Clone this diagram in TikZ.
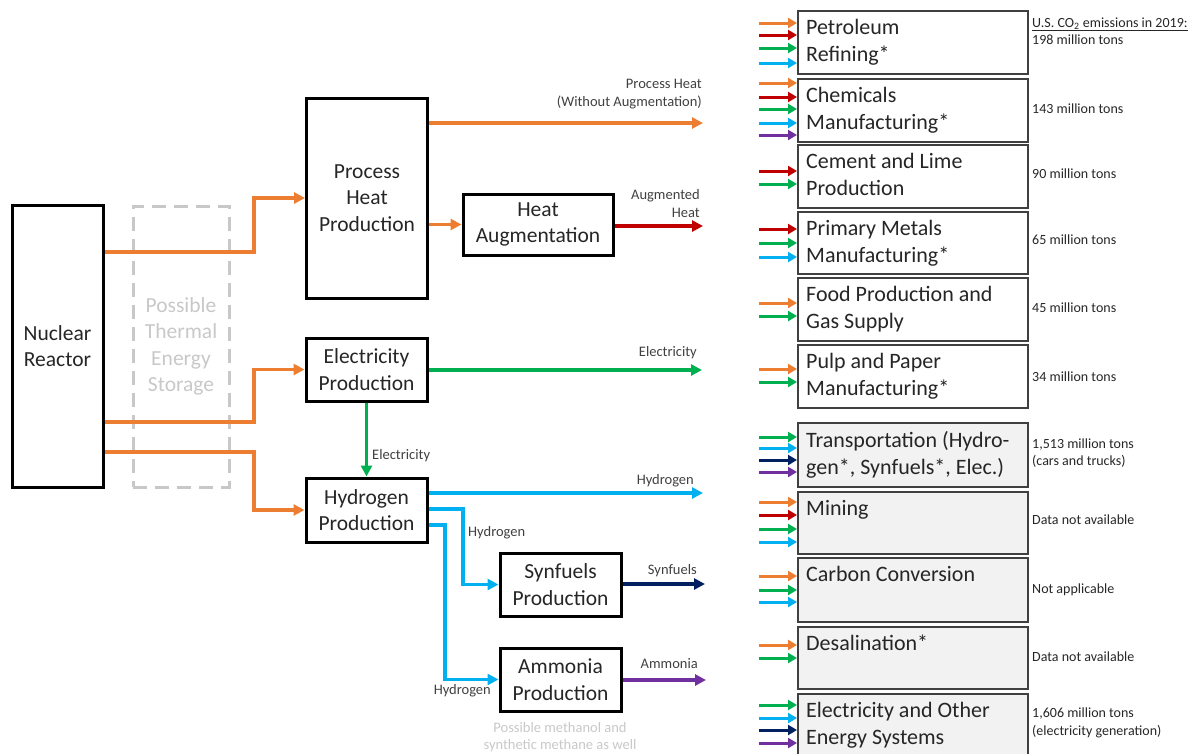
\documentclass[tikz,border=0pt]{standalone}
\usepackage{fontspec}
\setmainfont{Carlito}
\usetikzlibrary{arrows.meta}
\definecolor{cor}{HTML}{ED7D31}
\definecolor{cre}{HTML}{C00000}
\definecolor{cgr}{HTML}{00B050}
\definecolor{cbl}{HTML}{00B0F0}
\definecolor{cnv}{HTML}{002060}
\definecolor{cpu}{HTML}{7030A0}
\definecolor{txt}{HTML}{262626}
\definecolor{lbl}{HTML}{404040}
\definecolor{pale}{HTML}{C8C8C8}
\definecolor{boxgray}{HTML}{F2F2F2}
\tikzset{
  blk/.style={draw=black, line width=3pt, fill=white, align=center, inner sep=0pt,
    text=txt, font=\fontsize{21.5}{26.5}\selectfont},
  store/.style={draw=pale, line width=3pt, dash pattern=on 14pt off 8pt, align=center,
    inner sep=0pt, text=pale, font=\fontsize{21.5}{26.5}\selectfont},
  sect/.style={draw=lbl, line width=1.8pt, anchor=north west, inner sep=0pt},
  secttxt/.style={anchor=north west, align=left, inner sep=0pt, text=txt,
    font=\fontsize{22}{27}\selectfont},
  flow/.style={line width=3.2pt, -{Triangle[length=11pt,width=11pt]}},
  tiny/.style={line width=3pt, -{Triangle[length=9pt,width=10pt]}},
  lab/.style={text=lbl, inner sep=0pt, font=\fontsize{14.5}{18}\selectfont},
  note/.style={text=txt, anchor=west, align=left, inner sep=0pt, font=\fontsize{14}{17.5}\selectfont},
  paletxt/.style={text=pale, align=center, inner sep=0pt, font=\fontsize{14.5}{16.5}\selectfont}
}
\begin{document}
\begin{tikzpicture}[x=1pt,y=-1pt]
\useasboundingbox (0,0) rectangle (1204,753);
\clip (0,0) rectangle (1204,753);

% ---------- left part ----------
\node[blk, minimum width=91pt, minimum height=282pt] (reactor) at (57.5,346) {Nuclear\\Reactor};
\node[store, minimum width=96pt, minimum height=281pt] (storage) at (181,346.5) {Possible\\Thermal\\Energy\\Storage};
\node[blk, minimum width=121pt, minimum height=200pt] (ph) at (367,198) {Process\\Heat\\Production};
\node[blk, minimum width=150pt, minimum height=61pt] (ha) at (538,224.5) {Heat\\Augmentation};
\node[blk, minimum width=121pt, minimum height=63pt] (el) at (366.5,369.5) {Electricity\\Production};
\node[blk, minimum width=121pt, minimum height=64pt] (hy) at (366.5,510) {Hydrogen\\Production};
\node[blk, minimum width=121pt, minimum height=63pt] (sy) at (560.5,584.5) {Synfuels\\Production};
\node[blk, minimum width=121pt, minimum height=63pt] (am) at (560.5,679.5) {Ammonia\\Production};

\coordinate (phout) at (703,123);
\coordinate (haout) at (703,226);
\coordinate (elout) at (702,370);
\coordinate (hyout) at (703,493);
\coordinate (syout) at (705,584);
\coordinate (amout) at (706,680);

\draw[flow, cor] (reactor.east |- 0,252) -- (254,252) |- (ph.west);
\draw[flow, cor] (reactor.east |- 0,422) -- (254,422) |- (el.west);
\draw[flow, cor] (reactor.east |- 0,452) -- (254,452) |- (hy.west);
\draw[flow, cor] (ph.east |- phout) -- (phout);
\draw[flow, cor] (ph.east |- ha.west) -- (ha.west);
\draw[flow, cre] (ha.east |- haout) -- (haout);
\draw[flow, cgr] (el.east |- elout) -- (elout);
\draw[flow, cgr] (el.south) -- (hy.north);
\draw[flow, cbl] (hy.east |- hyout) -- (hyout);
\draw[flow, cbl] (hy.east |- 0,509) -- (463,509) |- (sy.west);
\draw[flow, cbl] (hy.east |- 0,525) -- (445,525) |- (am.west);
\draw[flow, cnv] (sy.east |- syout) -- (syout);
\draw[flow, cpu] (am.east |- amout) -- (amout);

\node[lab, anchor=east, align=right] (lph) at (702,94) {Process Heat\\(Without Augmentation)};
\node[lab, anchor=east, align=right] (lha) at (700,203.5) {Augmented\\Heat};
\node[lab, anchor=east] (lel) at (697,353) {Electricity};
\node[lab, anchor=west] (lel2) at (372,456) {Electricity};
\node[lab, anchor=east] (lhy) at (694,481) {Hydrogen};
\node[lab, anchor=west] (lhy2) at (468,533) {Hydrogen};
\node[lab, anchor=east] (lhy3) at (491,691) {Hydrogen};
\node[lab, anchor=east] (lsy) at (697,571) {Synfuels};
\node[lab, anchor=east] (lam) at (698,664) {Ammonia};
\node[paletxt] (meth) at (560,737) {Possible methanol and\\synthetic methane as well};

% ---------- right column ----------
\newcommand{\sector}[5]{%
  \node[sect, fill=#4, minimum width=230pt, minimum height=#3pt-#2pt] (#1) at (797,#2) {};
  \node[secttxt] (#1t) at (806,#2+9) {#5};
}
\newcommand{\inarr}[3]{%
  \coordinate (#1s) at (759,#2);
  \draw[tiny, #3] (#1s) -- (#1s -| pet.west);
}
\sector{pet}{10}{73}{white}{Petroleum\\Refining*}
\sector{che}{78}{141}{white}{Chemicals\\Manufacturing*}
\sector{cem}{144}{207}{white}{Cement and Lime\\Production}
\sector{met}{211}{273}{white}{Primary Metals\\Manufacturing*}
\sector{foo}{277}{340}{white}{Food Production and\\Gas Supply}
\sector{pul}{344}{407}{white}{Pulp and Paper\\Manufacturing*}
\sector{tra}{422}{486}{boxgray}{Transportation (Hydro-\\gen*, Synfuels*, Elec.)}
\sector{min}{491}{553}{boxgray}{Mining}
\sector{car}{557}{621}{boxgray}{Carbon Conversion}
\sector{des}{626}{688}{boxgray}{Desalination*}
\sector{ele}{693}{770}{boxgray}{Electricity and Other\\Energy Systems}

\inarr{a1}{23}{cor}\inarr{a2}{35}{cre}\inarr{a3}{48}{cgr}\inarr{a4}{63}{cbl}
\inarr{b1}{83}{cor}\inarr{b2}{97}{cre}\inarr{b3}{109}{cgr}\inarr{b4}{123}{cbl}\inarr{b5}{135}{cpu}
\inarr{c1}{171}{cre}\inarr{c2}{184}{cgr}
\inarr{d1}{229}{cre}\inarr{d2}{243}{cgr}\inarr{d3}{257}{cbl}
\inarr{e1}{303}{cor}\inarr{e2}{316}{cgr}
\inarr{f1}{369}{cor}\inarr{f2}{382}{cgr}
\inarr{g1}{437}{cgr}\inarr{g2}{448}{cbl}\inarr{g3}{460}{cnv}\inarr{g4}{472}{cpu}
\inarr{h1}{502}{cor}\inarr{h2}{515}{cre}\inarr{h3}{529}{cgr}\inarr{h4}{542}{cbl}
\inarr{i1}{576}{cor}\inarr{i2}{590}{cgr}\inarr{i3}{602}{cbl}
\inarr{j1}{645}{cor}\inarr{j2}{658}{cgr}
\inarr{k1}{705}{cgr}\inarr{k2}{718}{cbl}\inarr{k3}{730}{cnv}\inarr{k4}{743}{cpu}

\node[note] (n1) at (1032,31) {\underline{U.S. CO\textsubscript{2} emissions in 2019:}\\198 million tons};
\node[note] (n2) at (1032,109) {143 million tons};
\node[note] (n3) at (1032,174) {90 million tons};
\node[note] (n4) at (1032,240) {65 million tons};
\node[note] (n5) at (1032,308) {45 million tons};
\node[note] (n6) at (1032,377) {34 million tons};
\node[note] (n7) at (1032,453) {1,513 million tons\\(cars and trucks)};
\node[note] (n8) at (1032,520) {Data not available};
\node[note] (n9) at (1032,590) {Not applicable};
\node[note] (n10) at (1032,657) {Data not available};
\node[note] (n11) at (1032,723) {1,606 million tons\\(electricity generation)};
\end{tikzpicture}
\end{document}
